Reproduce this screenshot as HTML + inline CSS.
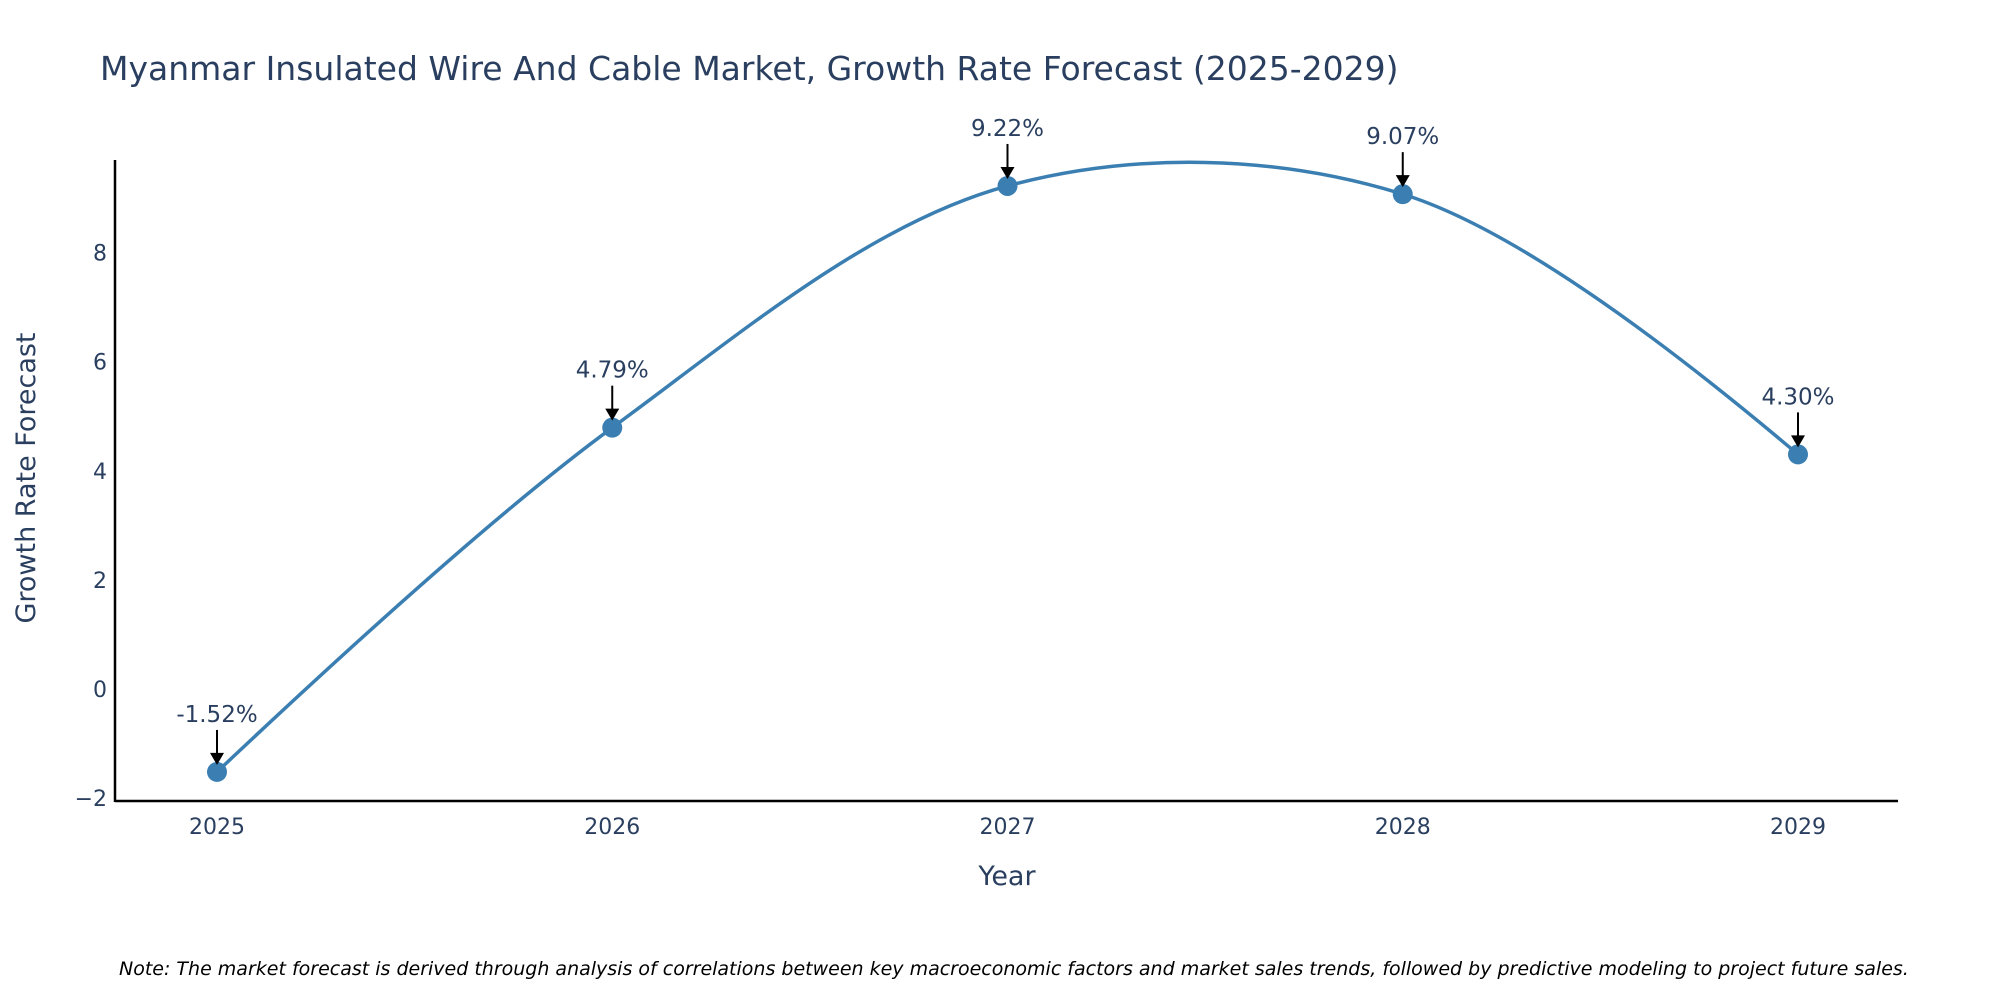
<!DOCTYPE html>
<html><head><meta charset="utf-8">
<style>
html,body{margin:0;padding:0;background:#fff;}
svg{display:block;font-family:"DejaVu Sans","Liberation Sans",sans-serif;}
</style></head>
<body>
<svg id="chart" width="2000" height="1000" viewBox="0 0 2000 1000">
<text x="100" y="80" font-size="33" fill="#2a3f5f">Myanmar Insulated Wire And Cable Market, Growth Rate Forecast (2025-2029)</text>
<g id="axes"></g>
<g id="plot"></g>
<text x="1007" y="885" font-size="27" fill="#2a3f5f" text-anchor="middle">Year</text>
<text transform="translate(35,478) rotate(-90)" font-size="27" fill="#2a3f5f" text-anchor="middle">Growth Rate Forecast</text>
<text x="119" y="975" font-size="19" font-style="italic" fill="#000">Note: The market forecast is derived through analysis of correlations between key macroeconomic factors and market sales trends, followed by predictive modeling to project future sales.</text>
</svg>
<script>
const years = [2025, 2026, 2027, 2028, 2029];
const growthRates = [-1.52, 4.79, 9.22, 9.07, 4.30];
const rateLabels = ["-1.52%", "4.79%", "9.22%", "9.07%", "4.30%"];
const yTicks = [-2, 0, 2, 4, 6, 8];

const NS = "http://www.w3.org/2000/svg";
function xs(v){ return 217 + (v - 2025) * (1798 - 217) / 4; }
function ys(v){ return 689 - v * 54.56; }
function mk(tag, attrs, parent){ const e=document.createElementNS(NS,tag); for(const k in attrs) e.setAttribute(k,attrs[k]); parent.appendChild(e); return e; }

const axes = document.getElementById('axes');
const plot = document.getElementById('plot');
const ax = mk('line',{x1:115,y1:801,x2:1898,y2:801,stroke:'#000','stroke-width':2.5},axes);


const ay = mk('line',{x1:115,y1:160,x2:115,y2:802,stroke:'#000','stroke-width':2.5},axes);



years.forEach(y=>{
  const t = mk('text',{x:xs(y),y:834,'font-size':22,fill:'#2a3f5f','text-anchor':'middle'},axes);
  t.textContent = y;
  
  
});
yTicks.forEach(v=>{
  const t = mk('text',{x:107,y:ys(v)+8,'font-size':22,fill:'#2a3f5f','text-anchor':'end'},axes);
  t.textContent = v < 0 ? '\u2212' + Math.abs(v) : String(v);
  
  
});

const pts = years.map((y,i)=>[xs(y), ys(growthRates[i])]);
function tangent(p, c, n, s){
  const d1x=p[0]-c[0], d1y=p[1]-c[1], d2x=n[0]-c[0], d2y=n[1]-c[1];
  const d1a=Math.pow(d1x*d1x+d1y*d1y,0.25), d2a=Math.pow(d2x*d2x+d2y*d2y,0.25);
  const numx=(d2a*d2a*d1x-d1a*d1a*d2x)*s, numy=(d2a*d2a*d1y-d1a*d1a*d2y)*s;
  const den1=3*d2a*(d1a+d2a), den2=3*d1a*(d1a+d2a);
  return [[c[0]+numx/den1, c[1]+numy/den1],[c[0]-numx/den2, c[1]-numy/den2]];
}
const tg=[];
for(let i=1;i<pts.length-1;i++) tg.push(tangent(pts[i-1],pts[i],pts[i+1],1));
let d='M'+pts[0]+'Q'+tg[0][0]+' '+pts[1];
for(let i=2;i<pts.length-1;i++) d+='C'+tg[i-2][1]+' '+tg[i-1][0]+' '+pts[i];
d+='Q'+tg[pts.length-3][1]+' '+pts[pts.length-1];
const line = mk('path',{d:d,fill:'none',stroke:'#3b7fb2','stroke-width':3.5},plot);



pts.forEach((p,i)=>{
  const c = mk('circle',{cx:p[0],cy:p[1],r:10,fill:'#3b7fb2'},plot);
  
  
  const a = mk('line',{x1:p[0],y1:p[1]-42,x2:p[0],y2:p[1]-16,stroke:'#000','stroke-width':2},plot);
  
  
  const h = mk('polygon',{points:`${p[0]-7},${p[1]-19} ${p[0]+7},${p[1]-19} ${p[0]},${p[1]-7}`,fill:'#000'},plot);
  
  
  const t = mk('text',{x:p[0],y:p[1]-50,'font-size':23,fill:'#2a3f5f','text-anchor':'middle'},plot);
  t.textContent = rateLabels[i];
  
  
});
</script>
</body></html>
